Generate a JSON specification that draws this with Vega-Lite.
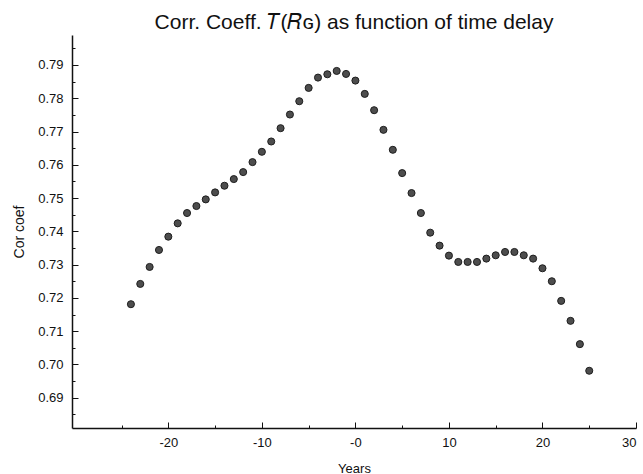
{
  "$schema": "https://vega.github.io/schema/vega-lite/v6.json",
  "width": 564,
  "height": 393,
  "autosize": {"type": "none"},
  "padding": {"left": 72, "top": 35, "right": 7, "bottom": 46},
  "background": "white",
  "config": {
    "view": {"stroke": null},
    "font": "Liberation Sans"
  },
  "title": {
    "text": "Corr. Coeff. 𝑇(𝑅ɢ) as function of time delay",
    "font": "Liberation Sans",
    "fontSize": 21,
    "fontWeight": "normal",
    "color": "#111",
    "anchor": "middle",
    "offset": 2
  },
  "data": {
    "values": [
      {"lag": -24, "r": 0.7181},
      {"lag": -23, "r": 0.7242},
      {"lag": -22, "r": 0.7293},
      {"lag": -21, "r": 0.7344},
      {"lag": -20, "r": 0.7384},
      {"lag": -19, "r": 0.7424},
      {"lag": -18, "r": 0.7455},
      {"lag": -17, "r": 0.7476},
      {"lag": -16, "r": 0.7496},
      {"lag": -15, "r": 0.7517},
      {"lag": -14, "r": 0.7537},
      {"lag": -13, "r": 0.7557},
      {"lag": -12, "r": 0.7578},
      {"lag": -11, "r": 0.7608},
      {"lag": -10, "r": 0.7639},
      {"lag": -9, "r": 0.7670},
      {"lag": -8, "r": 0.7710},
      {"lag": -7, "r": 0.7751},
      {"lag": -6, "r": 0.7791},
      {"lag": -5, "r": 0.7831},
      {"lag": -4, "r": 0.7862},
      {"lag": -3, "r": 0.7872},
      {"lag": -2, "r": 0.7882},
      {"lag": -1, "r": 0.7873},
      {"lag": 0, "r": 0.7853},
      {"lag": 1, "r": 0.7813},
      {"lag": 2, "r": 0.7764},
      {"lag": 3, "r": 0.7705},
      {"lag": 4, "r": 0.7645},
      {"lag": 5, "r": 0.7575},
      {"lag": 6, "r": 0.7515},
      {"lag": 7, "r": 0.7455},
      {"lag": 8, "r": 0.7396},
      {"lag": 9, "r": 0.7357},
      {"lag": 10, "r": 0.7327},
      {"lag": 11, "r": 0.7308},
      {"lag": 12, "r": 0.7308},
      {"lag": 13, "r": 0.7308},
      {"lag": 14, "r": 0.7318},
      {"lag": 15, "r": 0.7328},
      {"lag": 16, "r": 0.7338},
      {"lag": 17, "r": 0.7338},
      {"lag": 18, "r": 0.7328},
      {"lag": 19, "r": 0.7318},
      {"lag": 20, "r": 0.7289},
      {"lag": 21, "r": 0.7250},
      {"lag": 22, "r": 0.7191},
      {"lag": 23, "r": 0.7131},
      {"lag": 24, "r": 0.7061},
      {"lag": 25, "r": 0.6981}
    ]
  },
  "mark": {
    "type": "point",
    "filled": true,
    "size": 50,
    "fill": "#4d4d4d",
    "stroke": "#1e1e1e",
    "strokeWidth": 1,
    "opacity": 1,
    "fillOpacity": 1
  },
  "encoding": {
    "x": {
      "field": "lag",
      "type": "quantitative",
      "scale": {"domain": [-30.3, 30], "nice": false, "zero": false},
      "axis": {
        "title": "Years",
        "values": [-25, -20, -15, -10, -5, 0, 5, 10, 15, 20, 25, 30],
        "labelExpr": "datum.value % 10 == 0 ? (datum.value == 0 ? '-0' : toString(datum.value)) : ''",
        "grid": false,
        "domainColor": "#111",
        "domainWidth": 1.5,
        "tickColor": "#111",
        "tickWidth": 1,
        "tickSize": {"condition": {"test": "datum.value % 10 == 0", "value": -6}, "value": -3},
        "labelPadding": 14,
        "labelFontSize": 13,
        "labelColor": "#111",
        "labelFont": "Liberation Sans",
        "titleFont": "Liberation Sans",
        "titleFontSize": 13,
        "titleFontWeight": "normal",
        "titleColor": "#111",
        "titlePadding": 13
      }
    },
    "y": {
      "field": "r",
      "type": "quantitative",
      "scale": {"domain": [0.6809, 0.799], "nice": false, "zero": false},
      "axis": {
        "title": "Cor coef",
        "values": [0.685, 0.69, 0.695, 0.70, 0.705, 0.71, 0.715, 0.72, 0.725, 0.73, 0.735, 0.74, 0.745, 0.75, 0.755, 0.76, 0.765, 0.77, 0.775, 0.78, 0.785, 0.79, 0.795],
        "labelExpr": "abs(datum.value*100 - round(datum.value*100)) < 0.001 ? format(datum.value, '.2f') : ''",
        "grid": false,
        "domainColor": "#111",
        "domainWidth": 1.5,
        "tickColor": "#111",
        "tickWidth": 1,
        "tickSize": {"condition": {"test": "abs(datum.value*100 - round(datum.value*100)) < 0.001", "value": -6}, "value": -3},
        "labelPadding": 15,
        "labelFontSize": 13,
        "labelColor": "#111",
        "labelFont": "Liberation Sans",
        "titleFont": "Liberation Sans",
        "titleFontSize": 14,
        "titleFontWeight": "normal",
        "titleColor": "#111",
        "titlePadding": 11
      }
    }
  }
}
